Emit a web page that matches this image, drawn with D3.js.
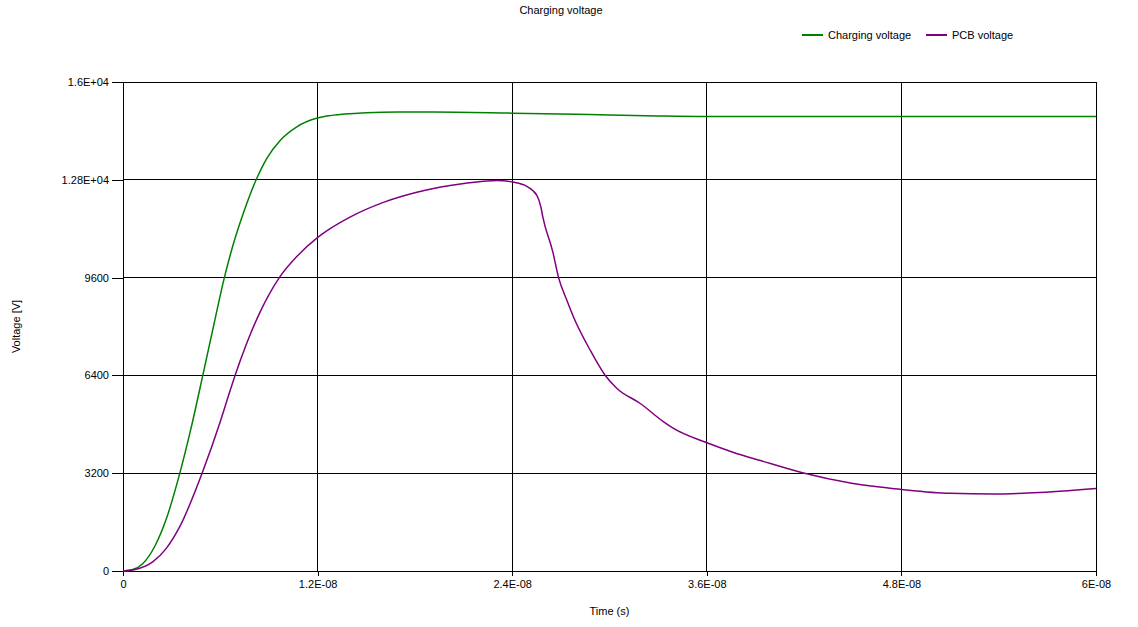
<!DOCTYPE html>
<html>
<head>
<meta charset="utf-8">
<script src="https://cdn.jsdelivr.net/npm/d3@7"></script>
<style>
  body { margin: 0; background: #fff; }
  text { font-family: "Liberation Sans", Arial, sans-serif; font-size: 11px; fill: #000; }
  .grid line, .axis path, .axis line { stroke: #000; shape-rendering: crispEdges; }
</style>
</head>
<body>
<svg id="chart" width="1138" height="627"></svg>
<script>
/* DATA (time in seconds, voltage in V) */

const chargeTime = [0, 0.6e-9, 1.2e-9, 2.0e-9, 2.7e-9, 3.5e-9, 4.2e-9, 4.92e-9, 5.6e-9,
  6.25e-9, 6.8e-9, 7.5e-9, 8.21e-9, 8.87e-9, 9.69e-9, 10.72e-9, 11.99e-9, 12.77e-9,
  14e-9, 15e-9, 17e-9, 19.1e-9, 24e-9, 27e-9, 30e-9, 33e-9, 36e-9, 48e-9, 60e-9];
const chargeVolt = [0, 50, 230, 850, 1750, 3193, 4681, 6400, 8052,
  9600, 10690, 11830, 12800, 13503, 14088, 14535, 14820, 14900,
  14965, 14995, 15015, 15015, 14981, 14955, 14920, 14890, 14873, 14873, 14873];

const pcbTime = [0, 0.62e-9, 1.85e-9, 2.67e-9, 3.5e-9, 4.87e-9, 5.96e-9, 6.4e-9, 6.91e-9,
  7.63e-9, 8.45e-9, 9.64e-9, 10.72e-9, 11.99e-9, 12.77e-9, 14e-9, 16.06e-9, 18.12e-9,
  20.17e-9, 22.23e-9, 23.06e-9, 24.02e-9, 24.9e-9, 25.52e-9, 25.77e-9, 25.89e-9, 26.5e-9,
  26.86e-9, 27.37e-9, 27.78e-9, 28.81e-9, 29.74e-9, 30.46e-9, 31.9e-9, 33.34e-9, 33.95e-9,
  36.01e-9, 37.65e-9, 39.3e-9, 41.9e-9, 44.85e-9, 48.02e-9, 51e-9, 53.7e-9, 56.16e-9, 60e-9];
const pcbVolt = [0, 33, 305, 741, 1449, 3193, 4828, 5560, 6397,
  7450, 8470, 9600, 10290, 10907, 11200, 11580, 12060, 12390,
  12610, 12750, 12780, 12725, 12584, 12290, 11908, 11581, 10450,
  9600, 8858, 8312, 7224, 6397, 5972, 5481, 4880, 4664,
  4194, 3880, 3615, 3215, 2880, 2670, 2540, 2517, 2559, 2703];

const xTicks = [0, 1.2e-8, 2.4e-8, 3.6e-8, 4.8e-8, 6e-8];
const xTickLabels = ["0", "1.2E-08", "2.4E-08", "3.6E-08", "4.8E-08", "6E-08"];
const yTicks = [0, 3200, 6400, 9600, 12800, 16000];
const yTickLabels = ["0", "3200", "6400", "9600", "1.28E+04", "1.6E+04"];

const seriesNames = ["Charging voltage", "PCB voltage"];
const seriesColors = ["#008000", "#800080"];

/* LAYOUT */

const margin = { left: 123, top: 82, right: 42, bottom: 56 };
const svg = d3.select("svg#chart");
const width = +svg.attr("width");
const height = +svg.attr("height");
const plotWidth = width - margin.left - margin.right;
const plotHeight = height - margin.top - margin.bottom;

const plotArea = svg.append("g")
  .attr("transform", "translate(" + margin.left + "," + margin.top + ")");

/* SCALES */

const xScale = d3.scaleLinear().domain([0, 6e-8]).range([0, plotWidth]);
const yScale = d3.scaleLinear().domain([0, 16000]).range([plotHeight, 0]);

/* GRID */

plotArea.append("g").attr("class", "grid")
  .selectAll("line").data(xTicks).join("line")
    .attr("x1", d => xScale(d)).attr("x2", d => xScale(d))
    .attr("y1", 0).attr("y2", plotHeight);

plotArea.append("g").attr("class", "grid")
  .selectAll("line").data(yTicks).join("line")
    .attr("x1", 0).attr("x2", plotWidth)
    .attr("y1", d => yScale(d)).attr("y2", d => yScale(d));

/* AXES */

const xAxis = d3.axisBottom(xScale)
  .tickValues(xTicks)
  .tickFormat((d, i) => xTickLabels[i])
  .tickSizeInner(5).tickSizeOuter(0).tickPadding(4);

const yAxis = d3.axisLeft(yScale)
  .tickValues(yTicks)
  .tickFormat((d, i) => yTickLabels[i])
  .tickSizeInner(11).tickSizeOuter(0).tickPadding(3);

plotArea.append("g").attr("class", "axis")
  .attr("transform", "translate(0," + plotHeight + ")")
  .call(xAxis);
plotArea.append("g").attr("class", "axis").call(yAxis);

svg.selectAll(".axis text").style("font-size", "11px").attr("fill", "#000")
  .style("font-family", "'Liberation Sans', Arial, sans-serif");
svg.selectAll(".axis .domain").attr("stroke", "#000");
svg.selectAll(".axis line").attr("stroke", "#000");

/* LINES */

const line = d3.line()
  .x(d => xScale(d[0]))
  .y(d => yScale(d[1]))
  .curve(d3.curveMonotoneX);

const series = [
  d3.zip(chargeTime, chargeVolt),
  d3.zip(pcbTime, pcbVolt)
];

plotArea.append("g").selectAll("path").data(series).join("path")
  .attr("d", line)
  .attr("fill", "none")
  .attr("stroke", (d, i) => seriesColors[i])
  .attr("stroke-width", 1.5);

/* TITLES */

svg.append("text")
  .attr("x", 561).attr("y", 14)
  .attr("text-anchor", "middle")
  .text("Charging voltage");

svg.append("text")
  .attr("x", margin.left + plotWidth / 2).attr("y", 615)
  .attr("text-anchor", "middle")
  .text("Time (s)");

svg.append("text")
  .attr("transform", "translate(20," + (margin.top + plotHeight / 2) + ") rotate(-90)")
  .attr("text-anchor", "middle")
  .text("Voltage [V]");

/* LEGEND */

const legendX = [802, 926];
const legend = svg.append("g").selectAll("g").data(seriesNames).join("g")
  .attr("transform", (d, i) => "translate(" + legendX[i] + ",35)");

legend.append("line")
  .attr("x1", 0).attr("x2", 21).attr("y1", 0).attr("y2", 0)
  .attr("stroke", (d, i) => seriesColors[i])
  .attr("stroke-width", 2);

legend.append("text")
  .attr("x", 26).attr("y", 4)
  .text(d => d);
</script>
</body>
</html>
